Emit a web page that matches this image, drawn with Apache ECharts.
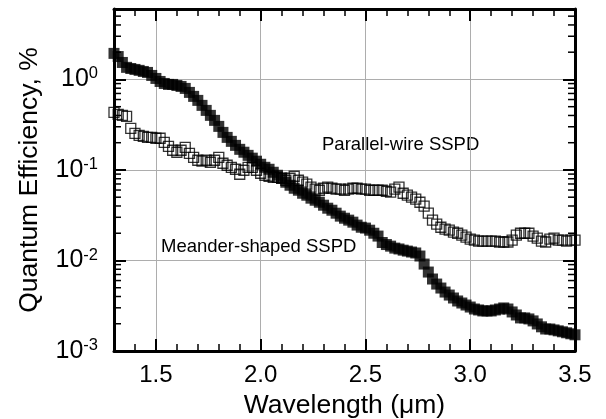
<!DOCTYPE html>
<html>
<head>
<meta charset="utf-8">
<script src="https://cdn.jsdelivr.net/npm/echarts@6/dist/echarts.min.js"></script>
<style>
  html, body { margin: 0; padding: 0; background: #fff; }
  #chart { width: 606px; height: 419px; }
</style>
</head>
<body>
<div id="chart"></div>
<script>
// wavelength, um
const wavelength = [
  1.30, 1.32, 1.34, 1.36, 1.38, 1.40, 1.42, 1.44, 1.46, 1.48,
  1.50, 1.52, 1.54, 1.56, 1.58, 1.60, 1.62, 1.64, 1.66, 1.68,
  1.70, 1.72, 1.74, 1.76, 1.78, 1.80, 1.82, 1.84, 1.86, 1.88,
  1.90, 1.92, 1.94, 1.96, 1.98, 2.00, 2.02, 2.04, 2.06, 2.08,
  2.10, 2.12, 2.14, 2.16, 2.18, 2.20, 2.22, 2.24, 2.26, 2.28,
  2.30, 2.32, 2.34, 2.36, 2.38, 2.40, 2.42, 2.44, 2.46, 2.48,
  2.50, 2.52, 2.54, 2.56, 2.58, 2.60, 2.62, 2.64, 2.66, 2.68,
  2.70, 2.72, 2.74, 2.76, 2.78, 2.80, 2.82, 2.84, 2.86, 2.88,
  2.90, 2.92, 2.94, 2.96, 2.98, 3.00, 3.02, 3.04, 3.06, 3.08,
  3.10, 3.12, 3.14, 3.16, 3.18, 3.20, 3.22, 3.24, 3.26, 3.28,
  3.30, 3.32, 3.34, 3.36, 3.38, 3.40, 3.42, 3.44, 3.46, 3.48,
  3.50
]

// quantum efficiency, %  (filled squares)
const meander = [
  1.94, 1.79, 1.54, 1.36, 1.32, 1.29, 1.26, 1.225, 1.195, 1.107,
  1.026, 0.950, 0.903, 0.881, 0.881, 0.858, 0.837, 0.796, 0.719, 0.650,
  0.587, 0.517, 0.455, 0.401, 0.353, 0.303, 0.260, 0.229, 0.207, 0.187,
  0.169, 0.157, 0.145, 0.135, 0.125, 0.1156, 0.107, 0.1018, 0.0943, 0.0874,
  0.0810, 0.0732, 0.0678, 0.0628, 0.0597, 0.0553, 0.0526, 0.0488, 0.0463, 0.0440,
  0.0408, 0.0378, 0.0359, 0.0333, 0.0309, 0.0293, 0.0279, 0.0265, 0.0246, 0.0233,
  0.0228, 0.0216, 0.0200, 0.0186, 0.0158, 0.0150, 0.0144, 0.0137, 0.0134, 0.0130,
  0.0127, 0.0124, 0.0121, 0.0112, 0.00913, 0.00745, 0.00624, 0.00549, 0.00496, 0.00448,
  0.00415, 0.00385, 0.00357, 0.00339, 0.00322, 0.00306, 0.00291, 0.00284, 0.00277, 0.00277,
  0.00277, 0.00284, 0.00291, 0.00299, 0.00291, 0.00270, 0.00250, 0.00232, 0.00232, 0.00226,
  0.00215, 0.00199, 0.00185, 0.00175, 0.00175, 0.00171, 0.00167, 0.00163, 0.00159, 0.00155,
  0.00151
]

// quantum efficiency, %  (open squares)
const parallel = [
  0.433, 0.411, 0.401, 0.391, 0.288, 0.254, 0.241, 0.235, 0.229, 0.229,
  0.224, 0.224, 0.202, 0.1825, 0.165, 0.157, 0.165, 0.178, 0.1528, 0.138,
  0.128, 0.125, 0.128, 0.1216, 0.128, 0.138, 0.1186, 0.1127, 0.107, 0.1018,
  0.0897, 0.0992, 0.107, 0.107, 0.0992, 0.0920, 0.0874, 0.0852, 0.0831, 0.0831,
  0.0810, 0.0770, 0.0810, 0.0852, 0.0770, 0.0732, 0.0696, 0.0645, 0.0613, 0.0597,
  0.0628, 0.0645, 0.0628, 0.0613, 0.0613, 0.0597, 0.0613, 0.0628, 0.0628, 0.0613,
  0.0613, 0.0597, 0.0597, 0.0597, 0.0597, 0.0582, 0.0568, 0.0613, 0.0645, 0.0553,
  0.0526, 0.0500, 0.0475, 0.0440, 0.0398, 0.0333, 0.0279, 0.0252, 0.0233, 0.0222,
  0.0216, 0.0206, 0.0200, 0.0191, 0.0181, 0.0172, 0.0168, 0.0164, 0.0164, 0.0164,
  0.0164, 0.0164, 0.0160, 0.0160, 0.0160, 0.0168, 0.0191, 0.0200, 0.0200, 0.0200,
  0.0186, 0.0177, 0.0164, 0.0160, 0.0172, 0.0177, 0.0168, 0.0168, 0.0164, 0.0168,
  0.0168
]

const xTicks = [1.5, 2.0, 2.5, 3.0, 3.5]
const xTickLabels = ['1.5', '2.0', '2.5', '3.0', '3.5']
const yTicks = [0.001, 0.01, 0.1, 1]
const yTickExps = ['-3', '-2', '-1', '0']
const yMinorTicks = [
  0.002, 0.003, 0.004, 0.005, 0.006, 0.007, 0.008, 0.009,
  0.02, 0.03, 0.04, 0.05, 0.06, 0.07, 0.08, 0.09,
  0.2, 0.3, 0.4, 0.5, 0.6, 0.7, 0.8, 0.9,
  2, 3, 4, 5
]

const X_MIN = 1.3
const X_MAX = 3.5
const Y_MIN = 0.001
const Y_MAX = 6
const FONT = 'Liberation Sans, Arial, sans-serif'

function pairs(ys) {
  return wavelength.map((x, i) => [x, ys[i]])
}

function findIdx(arr, v) {
  return arr.findIndex((t) => Math.abs(t - v) < 1e-6 * Math.max(1, Math.abs(t)))
}

const chart = echarts.init(document.getElementById('chart'))

const frame = { show: true, lineStyle: { color: '#000', width: 3 } }

chart.setOption({
  animation: false,
  backgroundColor: '#fff',
  textStyle: { fontFamily: FONT },
  grid: {
    left: 114,
    right: 31,
    top: 9,
    bottom: 68,
    containLabel: false,
    outerBoundsMode: 'none'
  },
  xAxis: [
    {
      // main bottom axis
      type: 'value',
      position: 'bottom',
      min: X_MIN,
      max: X_MAX,
      splitNumber: 4,
      name: 'Wavelength (\u03bcm)',
      nameLocation: 'middle',
      nameGap: 30,
      nameTextStyle: { color: '#000', fontSize: 26.5, fontFamily: FONT },
      axisLine: frame,
      axisTick: { show: true, inside: true, length: 12, lineStyle: { color: '#000', width: 2 } },
      axisLabel: {
        color: '#000',
        fontSize: 24,
        fontFamily: FONT,
        margin: 12,
        formatter(v) {
          const i = findIdx(xTicks, v)
          return i < 0 ? '' : xTickLabels[i]
        }
      },
      splitLine: { show: true, lineStyle: { color: '#adadad', width: 1 } }
    },
    {
      // bottom minor ticks
      type: 'value',
      position: 'bottom',
      min: X_MIN,
      max: X_MAX,
      interval: 0.1,
      axisLine: { show: false },
      axisTick: { show: true, inside: true, length: 7, lineStyle: { color: '#000', width: 1.5 } },
      axisLabel: { show: false },
      splitLine: { show: false }
    },
    {
      // top frame
      type: 'value',
      position: 'top',
      min: X_MIN,
      max: X_MAX,
      splitNumber: 4,
      axisLine: frame,
      axisTick: { show: true, inside: true, length: 12, lineStyle: { color: '#000', width: 2 } },
      axisLabel: { show: false },
      splitLine: { show: false }
    },
    {
      // top minor ticks
      type: 'value',
      position: 'top',
      min: X_MIN,
      max: X_MAX,
      interval: 0.1,
      axisLine: { show: false },
      axisTick: { show: true, inside: true, length: 7, lineStyle: { color: '#000', width: 1.5 } },
      axisLabel: { show: false },
      splitLine: { show: false }
    }
  ],
  yAxis: [
    {
      type: 'log',
      logBase: 10,
      position: 'left',
      min: Y_MIN,
      max: Y_MAX,
      name: 'Quantum Efficiency, %',
      nameLocation: 'middle',
      nameGap: 71,
      nameTextStyle: { color: '#000', fontSize: 26.5, fontFamily: FONT },
      axisLine: frame,
      axisTick: { show: true, inside: true, length: 12, lineStyle: { color: '#000', width: 2 } },
      axisLabel: {
        color: '#000',
        margin: 16,
        formatter(v) {
          const i = findIdx(yTicks, v)
          return i < 0 ? '' : '{b|10}{s|' + yTickExps[i] + '}'
        },
        rich: {
          b: { fontSize: 25, fontFamily: FONT, color: '#000', lineHeight: 28 },
          s: { fontSize: 16.5, fontFamily: FONT, color: '#000', verticalAlign: 'top', lineHeight: 16 }
        }
      },
      splitLine: { show: true, lineStyle: { color: '#adadad', width: 1 } }
    },
    {
      type: 'log',
      logBase: 10,
      position: 'right',
      min: Y_MIN,
      max: Y_MAX,
      axisLine: frame,
      axisTick: { show: true, inside: true, length: 12, lineStyle: { color: '#000', width: 2 } },
      axisLabel: { show: false },
      splitLine: { show: false }
    }
  ],
  graphic: [
    {
      type: 'text',
      silent: true,
      style: {
        x: 322, y: 145, text: 'Parallel-wire SSPD',
        fill: '#000', font: '18.5px ' + FONT, verticalAlign: 'middle'
      }
    },
    {
      type: 'text',
      silent: true,
      style: {
        x: 161, y: 247, text: 'Meander-shaped SSPD',
        fill: '#000', font: '18.5px ' + FONT, verticalAlign: 'middle'
      }
    }
  ],
  series: [
    {
      // minor log ticks on left and right frame
      type: 'custom',
      silent: true,
      clip: false,
      xAxisIndex: 0,
      yAxisIndex: 0,
      data: yMinorTicks.map((v) => [X_MIN, v]),
      renderItem(params, api) {
        const v = api.value(1)
        const l = api.coord([X_MIN, v])
        const r = api.coord([X_MAX, v])
        const st = { stroke: '#000', lineWidth: 1.5 }
        return {
          type: 'group',
          children: [
            { type: 'line', shape: { x1: l[0], y1: l[1], x2: l[0] + 7, y2: l[1] }, style: st },
            { type: 'line', shape: { x1: r[0], y1: r[1], x2: r[0] - 7, y2: r[1] }, style: st }
          ]
        }
      }
    },
    {
      name: 'Parallel-wire SSPD',
      type: 'scatter',
      symbol: 'rect',
      symbolSize: 10,
      itemStyle: { color: 'rgba(0,0,0,0)', borderColor: '#000', borderWidth: 1.3 },
      data: pairs(parallel)
    },
    {
      name: 'Meander-shaped SSPD',
      type: 'scatter',
      symbol: 'rect',
      symbolSize: 11,
      itemStyle: { color: '#000' },
      data: pairs(meander)
    }
  ]
})
</script>
</body>
</html>
